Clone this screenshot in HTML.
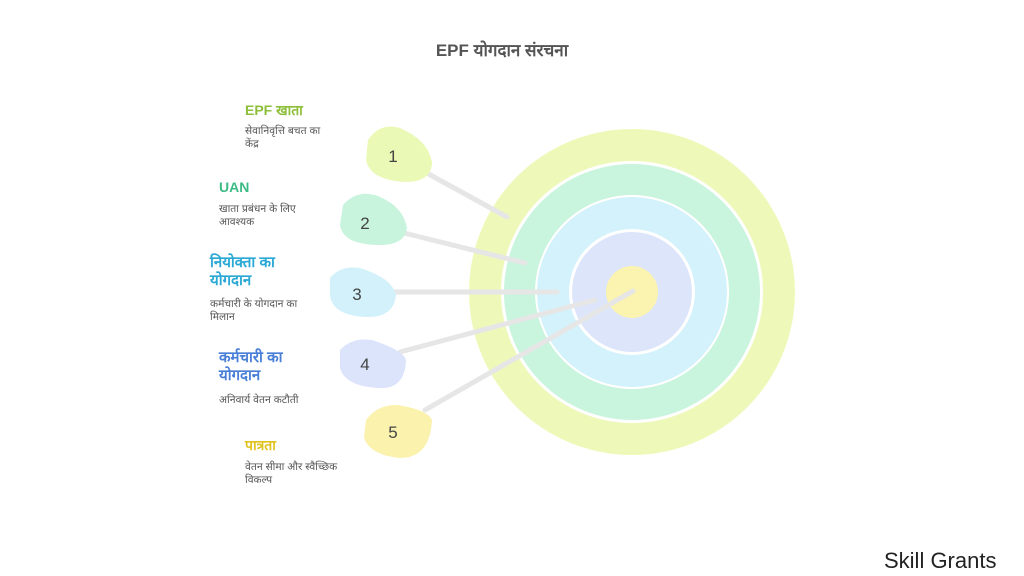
<!DOCTYPE html>
<html><head><meta charset="utf-8"><style>
body{margin:0;width:1024px;height:576px;background:#fff;position:relative;overflow:hidden;font-family:"Liberation Sans","Noto Sans CJK SC",sans-serif}
.t{position:absolute;font-weight:bold}
.d{position:absolute;font-size:10.5px;color:#555;line-height:13px}
</style></head><body>
<div class="t" style="left:0;width:1004px;text-align:center;top:38px;font-size:17px;color:#555">EPF योगदान संरचना</div>
<svg width="1024" height="576" style="position:absolute;left:0;top:0">
<circle cx="632" cy="292" r="163" fill="#eef9b9"/>
<circle cx="632" cy="292" r="131" fill="#fff"/>
<circle cx="632" cy="292" r="128" fill="#c9f4de"/>
<circle cx="632" cy="292" r="97" fill="#fff"/>
<circle cx="632" cy="292" r="95" fill="#d4f2fb"/>
<circle cx="632" cy="292" r="63" fill="#fff"/>
<circle cx="632" cy="292" r="60" fill="#dde5fb"/>
<circle cx="632" cy="292" r="26" fill="#fbf3b0"/>
<g stroke="#e6e6e6" stroke-width="5" stroke-linecap="round">
<line x1="425" y1="172" x2="507" y2="217"/>
<line x1="400" y1="232" x2="525" y2="263"/>
<line x1="390" y1="292" x2="557" y2="292"/>
<line x1="400" y1="352" x2="595" y2="300"/>
<line x1="425" y1="410" x2="633" y2="291"/>
</g>
<g>
<path d="M368 140 Q380 122 400 128 Q428 140 432 162 Q432 182 405 182 Q370 180 366 160 Z" fill="#eaf9b5"/>
<path d="M343 205 Q356 190 375 195 Q403 205 407 228 Q405 245 380 245 Q343 245 340 225 Z" fill="#c8f4dd"/>
<path d="M330 278 Q340 265 360 268 Q392 278 396 295 Q394 318 365 317 Q332 315 330 295 Z" fill="#d2f1fb"/>
<path d="M340 350 Q352 337 372 340 Q403 350 406 360 Q405 390 378 388 Q345 386 340 368 Z" fill="#dbe4fb"/>
<path d="M366 420 Q378 404 398 405 Q428 410 432 420 Q430 458 400 458 Q370 455 364 438 Z" fill="#fbf2ae"/>
</g>
<g font-family="Liberation Sans,sans-serif" font-size="17" fill="#444" text-anchor="middle">
<text x="393" y="162">1</text><text x="365" y="229">2</text><text x="357" y="300">3</text><text x="365" y="370">4</text><text x="393" y="438">5</text>
</g>
</svg>
<div class="t" style="left:245px;top:101px;font-size:14px;color:#8dbf3a">EPF खाता</div>
<div class="d" style="left:245px;top:125px">सेवानिवृत्ति बचत का<br>केंद्र</div>
<div class="t" style="left:219px;top:179px;font-size:14px;color:#3dbb85">UAN</div>
<div class="d" style="left:219px;top:203px">खाता प्रबंधन के लिए<br>आवश्यक</div>
<div class="t" style="left:210px;top:254px;font-size:15px;color:#2aa8d6;line-height:18px">नियोक्ता का<br>योगदान</div>
<div class="d" style="left:210px;top:298px">कर्मचारी के योगदान का<br>मिलान</div>
<div class="t" style="left:219px;top:349px;font-size:15px;color:#4a7fd8;line-height:18px">कर्मचारी का<br>योगदान</div>
<div class="d" style="left:219px;top:394px">अनिवार्य वेतन कटौती</div>
<div class="t" style="left:245px;top:436px;font-size:14px;color:#e0c320">पात्रता</div>
<div class="d" style="left:245px;top:461px">वेतन सीमा और स्वैच्छिक<br>विकल्प</div>
<div style="position:absolute;left:884px;top:548px;font-size:22px;color:#222">Skill Grants</div>
</body></html>
